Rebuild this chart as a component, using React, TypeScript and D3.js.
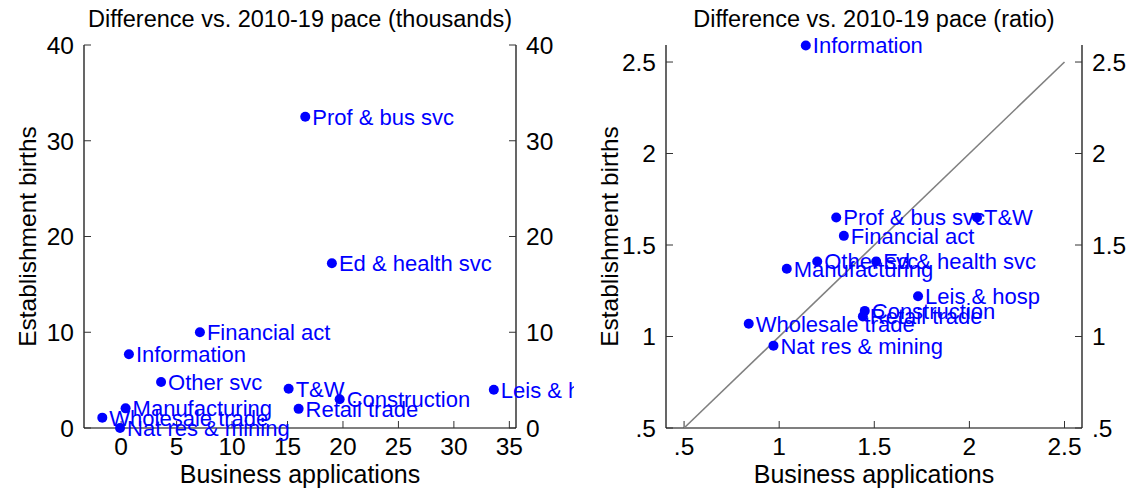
import React, { useEffect, useRef } from 'react';
import * as d3 from 'd3';

const sectors = [
  'Prof & bus svc', 'Ed & health svc', 'Financial act', 'Information',
  'Other svc', 'T&W', 'Construction', 'Leis & hosp', 'Retail trade',
  'Manufacturing', 'Wholesale trade', 'Nat res & mining',
];

// difference vs. 2010-19 pace, thousands
const levelApps = [16.6, 19.0, 7.1, 0.7, 3.6, 15.1, 19.7, 33.6, 16.0, 0.4, -1.7, -0.1];
const levelBirths = [32.5, 17.2, 10.0, 7.7, 4.8, 4.1, 3.0, 4.0, 2.0, 2.05, 1.08, 0.0];

// ratio to 2010-19 pace
const ratioApps = [1.30, 1.51, 1.34, 1.14, 1.20, 2.04, 1.45, 1.73, 1.44, 1.04, 0.84, 0.97];
const ratioBirths = [1.65, 1.41, 1.55, 2.59, 1.41, 1.65, 1.14, 1.22, 1.11, 1.37, 1.07, 0.95];

const levelXTicks = [0, 5, 10, 15, 20, 25, 30, 35];
const levelYTicks = [0, 10, 20, 30, 40];
const ratioTicks = [0.5, 1, 1.5, 2, 2.5];

const W = 1135;
const H = 491;
const FONT = 'Liberation Sans, Arial, sans-serif';
const BLUE = '#0000ff';

const fmtRatio = (v: number) => String(v).replace(/^0\./, '.');

const App: React.FC = () => {
  const svgRef = useRef<SVGSVGElement | null>(null);

  useEffect(() => {
    const svg = d3.select(svgRef.current);
    svg.selectAll('*').remove();

    const panels = [
      {
        id: 'lvl',
        title: 'Difference vs. 2010-19 pace (thousands)',
        xs: levelApps, ys: levelBirths,
        x: d3.scaleLinear().domain([-3.35, 35.6]).range([84, 516]),
        y: d3.scaleLinear().domain([0, 40]).range([428, 45]),
        xTicks: levelXTicks, yTicks: levelYTicks,
        fmt: (v: number) => String(v),
        diag: false,
        clip: [0, 574],
      },
      {
        id: 'rat',
        title: 'Difference vs. 2010-19 pace (ratio)',
        xs: ratioApps, ys: ratioBirths,
        x: d3.scaleLinear().domain([0.405, 2.592]).range([666, 1082]),
        y: d3.scaleLinear().domain([0.5, 2.593]).range([428, 45]),
        xTicks: ratioTicks, yTicks: ratioTicks,
        fmt: fmtRatio,
        diag: true,
        clip: [574, W],
      },
    ];

    const defs = svg.append('defs');

    panels.forEach((p) => {
      defs.append('clipPath').attr('id', `clip-${p.id}`)
        .append('rect')
        .attr('x', p.clip[0]).attr('y', 0)
        .attr('width', p.clip[1] - p.clip[0]).attr('height', H);

      const g = svg.append('g').attr('clip-path', `url(#clip-${p.id})`);
      const [x0, x1] = p.x.range();
      const [yb, yt] = p.y.range();
      const cx = (x0 + x1) / 2;

      // title
      g.append('text')
        .attr('x', cx).attr('y', 27)
        .attr('text-anchor', 'middle')
        .style('font-family', FONT).style('font-size', '23.5px')
        .text(p.title);

      // frame: left, right, bottom
      const axisColor = '#000';
      g.append('line').attr('x1', x0).attr('x2', x0).attr('y1', yt).attr('y2', yb)
        .attr('stroke', axisColor).attr('stroke-width', 1.2);
      g.append('line').attr('x1', x1).attr('x2', x1).attr('y1', yt).attr('y2', yb)
        .attr('stroke', axisColor).attr('stroke-width', 1.2);
      g.append('line').attr('x1', x0).attr('x2', x1).attr('y1', yb).attr('y2', yb)
        .attr('stroke', axisColor).attr('stroke-width', 1.2);

      // y ticks on both sides, pointing inward
      p.yTicks.forEach((t) => {
        const yy = p.y(t);
        g.append('line').attr('x1', x0).attr('x2', x0 + 7).attr('y1', yy).attr('y2', yy)
          .attr('stroke', '#333').attr('stroke-width', 1);
        g.append('line').attr('x1', x1 - 7).attr('x2', x1).attr('y1', yy).attr('y2', yy)
          .attr('stroke', '#333').attr('stroke-width', 1);
        g.append('text')
          .attr('x', x0 - 10).attr('y', yy).attr('dy', '0.36em')
          .attr('text-anchor', 'end')
          .style('font-family', FONT).style('font-size', '24.5px')
          .text(p.fmt(t));
        g.append('text')
          .attr('x', x1 + 10).attr('y', yy).attr('dy', '0.36em')
          .attr('text-anchor', 'start')
          .style('font-family', FONT).style('font-size', '24.5px')
          .text(p.fmt(t));
      });

      // x ticks
      p.xTicks.forEach((t) => {
        const xx = p.x(t);
        g.append('line').attr('x1', xx).attr('x2', xx).attr('y1', yb).attr('y2', yb - 7)
          .attr('stroke', '#333').attr('stroke-width', 1);
        g.append('text')
          .attr('x', xx).attr('y', 455)
          .attr('text-anchor', 'middle')
          .style('font-family', FONT).style('font-size', '24.5px')
          .text(p.fmt(t));
      });

      // axis titles
      g.append('text')
        .attr('x', cx).attr('y', 483)
        .attr('text-anchor', 'middle')
        .style('font-family', FONT).style('font-size', '25px')
        .text('Business applications');
      g.append('text')
        .attr('transform', `translate(${x0 - 48},${(yt + yb) / 2}) rotate(-90)`)
        .attr('text-anchor', 'middle')
        .style('font-family', FONT).style('font-size', '24.5px')
        .text('Establishment births');

      if (p.diag) {
        g.append('line')
          .attr('x1', p.x(0.5)).attr('y1', p.y(0.5))
          .attr('x2', p.x(2.5)).attr('y2', p.y(2.5))
          .attr('stroke', '#808080').attr('stroke-width', 1.6);
      }

      const pts = sectors.map((s, i) => ({ s, x: p.xs[i], y: p.ys[i] }));

      g.selectAll(null).data(pts).enter().append('circle')
        .attr('cx', (d) => p.x(d.x)).attr('cy', (d) => p.y(d.y))
        .attr('r', 5).attr('fill', BLUE);

      g.selectAll(null).data(pts).enter().append('text')
        .attr('x', (d) => p.x(d.x) + 7).attr('y', (d) => p.y(d.y)).attr('dy', '0.36em')
        .style('font-family', FONT).style('font-size', '22px')
        .attr('fill', BLUE)
        .text((d) => d.s);
    });
  }, []);

  return (
    <div style={{ position: 'absolute', left: 0, top: 0 }}>
      <svg ref={svgRef} width={W} height={H} style={{ display: 'block', background: '#fff' }} />
    </div>
  );
};

export default App;
